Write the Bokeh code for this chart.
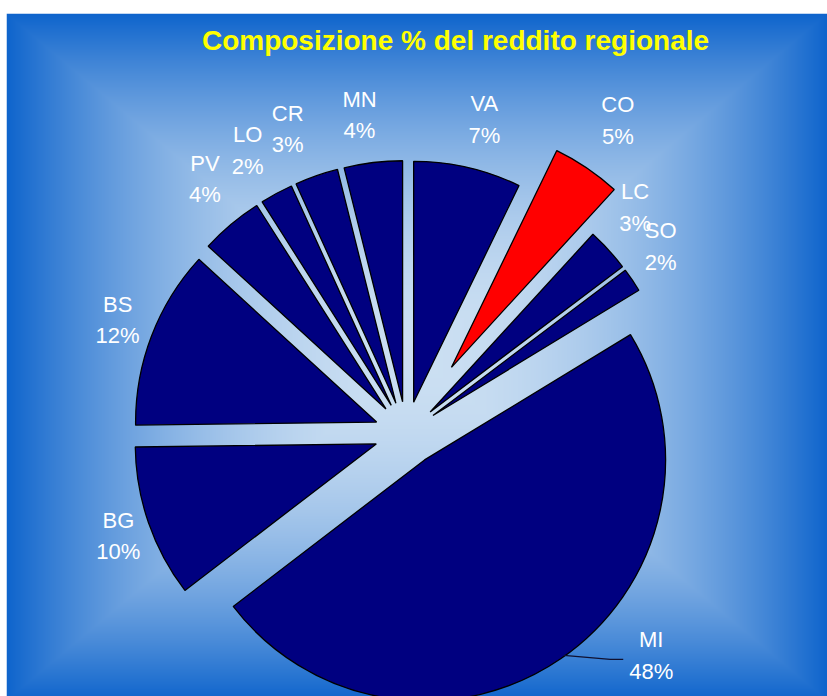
import numpy as np
from bokeh.plotting import figure
from bokeh.models import ColumnDataSource, Range1d
from bokeh.core.properties import value
from bokeh.embed import file_html
from bokeh.resources import INLINE

# ---------------- data ----------------
title_text = "Composizione % del reddito regionale"
provinces = ["VA", "CO", "LC", "SO", "MI", "BG", "BS", "PV", "LO", "CR", "MN"]
shares = [7.2, 4.6, 2.9, 1.6, 48.3, 10.2, 12.0, 4.2, 2.2, 2.9, 3.9]
slice_colors = ["#000080", "#FF0000", "#000080", "#000080", "#000080", "#000080",
                "#000080", "#000080", "#000080", "#000080", "#000080"]

# ---------------- layout ----------------
R = 241                      # pie radius (px)
explode = [32, 80, 32, 32, 32, 32, 32, 32, 32, 32, 32]
label_r = [323, 377, 321, 315, 331, 306, 310, 324, 324, 326, 321]
label_da = [-1.0, 0.1, 2.3, 2.0, 13.3, 0.6, -0.4, -1.5, 0.9, 2.1, 1.4]
LEFT, TOP = 6, 13            # white strip left / top of the chart area
W, H = 821, 683              # frame size (1 data unit = 1 px)
CX, CY = 406, 433            # pie centre in page pixels
XR = (LEFT - CX, LEFT + W - CX)
YR = (CY - (TOP + H), CY - TOP)

total = float(sum(shares))
frac = np.array(shares) / total
cum1 = np.cumsum(frac)
cum0 = cum1 - frac
start = np.pi / 2 - 2 * np.pi * cum0
end = np.pi / 2 - 2 * np.pi * cum1
mid = (start + end) / 2
ex = np.array(explode, dtype=float)
cx = ex * np.cos(mid)
cy = ex * np.sin(mid)

la = mid + np.radians(label_da)
lr = np.array(label_r, dtype=float)
lx = lr * np.cos(la)
ly = lr * np.sin(la)

src = ColumnDataSource(dict(x=cx, y=cy, start=start, end=end, color=slice_colors))
lab = ColumnDataSource(dict(x=lx, ny=ly + 16.5, py=ly - 15.0, name=provinces,
                            pct=[f"{round(v / total * 100)}%" for v in shares]))

p = figure(width=LEFT + W, height=TOP + H, output_backend="svg", toolbar_location=None,
           x_range=Range1d(*XR), y_range=Range1d(*YR),
           x_axis_location=None, y_axis_location=None,
           min_border_left=LEFT, min_border_right=0, min_border_bottom=0, min_border_top=TOP,
           border_fill_color="white", outline_line_color=None)
p.xgrid.visible = False
p.ygrid.visible = False

# background: rectangular "from centre" gradient
light = np.array([203, 223, 242], dtype=float)
dark = np.array([14, 100, 204], dtype=float)
sx = np.arange(W) + LEFT + 0.5
sy = (TOP + H - 0.5) - np.arange(H)
tx = np.abs(sx - 416.5) / 410.5
ty = np.abs(sy - 356.5) / 343.5
t = np.clip(np.maximum(tx[None, :], ty[:, None]), 0, 1)
f = t ** 2
rgb = light + (dark - light) * f[..., None]
img = np.empty((H, W), dtype=np.uint32)
view = img.view(np.uint8).reshape(H, W, 4)
view[..., :3] = np.round(rgb).astype(np.uint8)
view[..., 3] = 255
p.image_rgba(image=[img], x=XR[0], y=YR[0], dw=W, dh=H)

# slices
p.wedge(x="x", y="y", radius=R, start_angle="start", end_angle="end", direction="clock",
        fill_color="color", line_color="black", line_width=1.3, source=src)

# MI leader line
i = provinces.index("MI")
a0 = mid[i] + np.radians(1.1)
p.line(x=[cx[i] + (R - 1) * np.cos(a0), lx[i] - 41, lx[i] - 28],
       y=[cy[i] + (R - 1) * np.sin(a0), ly[i] - 3, ly[i] - 3],
       line_color="#101030", line_width=1.1)

# labels
for col, ycol in (("name", "ny"), ("pct", "py")):
    p.text(x="x", y=ycol, text=col, source=lab, text_color="white",
           text_font=value("Liberation Sans"), text_font_size="22px",
           text_align="center", text_baseline="middle")

# title
p.text(x=[455 - CX], y=[CY - 39.5], text=[title_text], text_color="#FFFF00",
       text_font=value("Liberation Sans"), text_font_style="bold",
       text_font_size="28px", text_align="center", text_baseline="middle")

open("out.html", "w").write(file_html(p, INLINE))
